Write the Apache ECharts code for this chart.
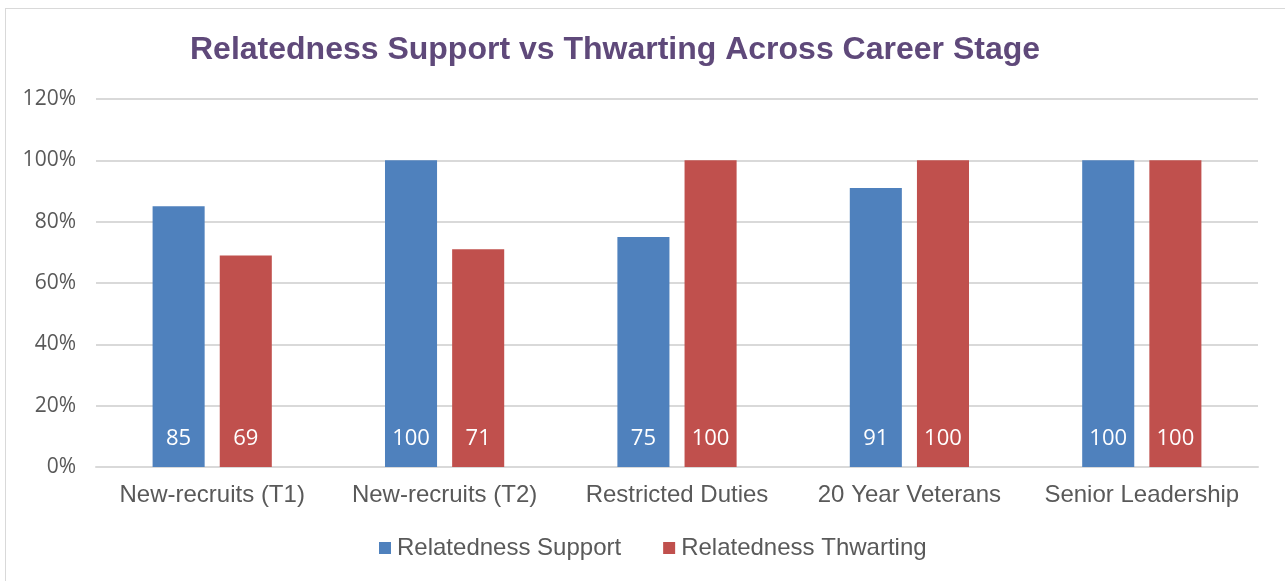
<!DOCTYPE html>
<html><head><meta charset="utf-8">
<script src="https://cdn.jsdelivr.net/npm/echarts@6/dist/echarts.min.js"></script>
<style>
html,body{margin:0;padding:0;background:#fff;}
#c{width:1285px;height:581px;position:absolute;left:0;top:0;}
#frame{position:absolute;left:5px;top:8px;width:1300px;height:600px;border:1.5px solid #d9d9d9;box-sizing:border-box;}
</style></head>
<body>
<div id="frame"></div>
<div id="c"></div>
<script>
const categories = ['New-recruits (T1)','New-recruits (T2)','Restricted Duties','20 Year Veterans','Senior Leadership'];
const supportValues = [85,100,75,91,100];
const thwartingValues = [69,71,100,100,100];
const seriesNames = ['Relatedness Support','Relatedness Thwarting'];

const chart = echarts.init(document.getElementById('c'));
const lbl = {show:true, position:'insideBottom', distance:17, color:'#fff', fontSize:22, fontFamily:'Open Sans'};
chart.setOption({
  animation:false,
  title:{text:'Relatedness Support vs Thwarting Across Career Stage', left:610, top:29, textAlign:'center',
    textStyle:{fontFamily:'Liberation Sans', fontWeight:'bold', fontSize:32, color:'#5F497A'}},
  legend:{top:531, left:374, itemWidth:12, itemHeight:12, itemGap:42, icon:'rect',
    textStyle:{fontFamily:'Liberation Sans', fontSize:24, color:'#595959', padding:[0,0,0,1]}},
  grid:{left:96, right:27, top:99, bottom:114},
  xAxis:{type:'category', data:categories, axisTick:{show:false},
    axisLine:{lineStyle:{color:'#d9d9d9', width:2}},
    axisLabel:{interval:0, fontFamily:'Liberation Sans', fontSize:24, color:'#595959', margin:16}},
  yAxis:{type:'value', min:0, max:120, interval:20,
    axisLabel:{formatter:'{value}%', fontFamily:'Open Sans', fontSize:21, color:'#595959', margin:20},
    splitLine:{lineStyle:{color:'#d9d9d9', width:2}}},
  series:[
    {name:seriesNames[0], type:'bar', data:supportValues, barWidth:'22.4%', barGap:'29%', itemStyle:{color:'#4F81BD'}, label:lbl},
    {name:seriesNames[1], type:'bar', data:thwartingValues, barWidth:'22.4%', itemStyle:{color:'#C0504D'}, label:lbl}
  ]
});
</script>
</body></html>
